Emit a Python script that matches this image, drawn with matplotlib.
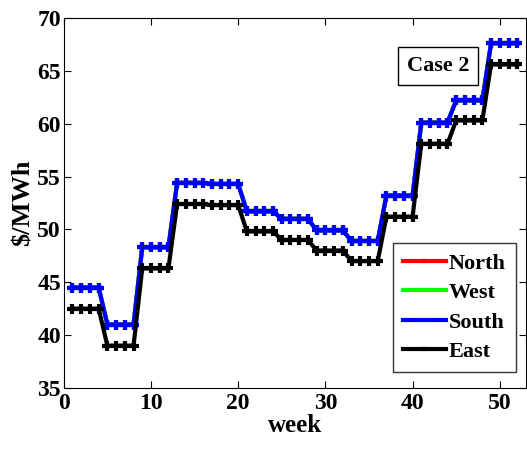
import matplotlib.pyplot as plt
import numpy as np

weeks = np.arange(1, 53)

# weekly prices, constant within each 4-week block
south_blocks = [44.5, 41.0, 48.3, 54.4, 54.3, 51.7, 51.0, 49.9, 48.9, 53.2, 60.1, 62.2, 67.6]
east_blocks = [42.5, 39.0, 46.3, 52.4, 52.3, 49.8, 49.0, 48.0, 47.0, 51.2, 58.1, 60.3, 65.6]
south = np.repeat(south_blocks, 4)
east = np.repeat(east_blocks, 4)
north = south.copy()
west = south.copy()

series = [('North', north, '#ff0000'),
          ('West', west, '#00ff00'),
          ('South', south, '#0000ff'),
          ('East', east, '#000000')]

plt.rcParams['font.family'] = 'Liberation Serif'
plt.rcParams['font.weight'] = 'bold'

fig = plt.figure(figsize=(5.27, 4.49), dpi=100)
ax = fig.add_axes([0.121, 0.136, 0.877, 0.824])

for name, vals, col in series:
    ax.plot(weeks, vals, color=col, lw=3, marker='+', ms=7, mew=3, label=name)

ax.set_xlim(0, 53)
ax.set_ylim(35, 70)
ax.set_xticks([0, 10, 20, 30, 40, 50])
ax.set_yticks(np.arange(35, 71, 5))
ax.tick_params(direction='in', top=True, right=True, labelsize=17, length=5, pad=2)
ax.tick_params(axis='x', pad=4)
for lab in ax.get_xticklabels() + ax.get_yticklabels():
    lab.set_fontweight('bold')
ax.set_xlabel('week', fontsize=18, fontweight='bold', labelpad=0)
ax.set_ylabel('$/MWh', fontsize=19, fontweight='bold', labelpad=2)

ax.text(0.81, 0.87, 'Case 2', transform=ax.transAxes, ha='center', va='center',
        fontsize=16, fontweight='bold', zorder=1,
        bbox=dict(boxstyle='square,pad=0.4', fc='white', ec='black', lw=1))

leg = ax.legend(loc='lower right', fontsize=16, frameon=True, fancybox=False,
                edgecolor='black', handlelength=1.9, handletextpad=0.15,
                borderaxespad=0.0, borderpad=0.45, labelspacing=0.4,
                markerscale=0.5, bbox_to_anchor=(0.978, 0.043))
leg.get_frame().set_linewidth(1)
for t in leg.get_texts():
    t.set_fontweight('bold')

fig.savefig('out.png', dpi=100)
